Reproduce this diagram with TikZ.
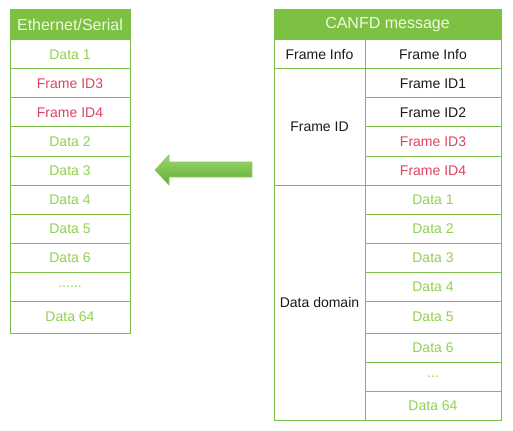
\documentclass[tikz,border=0pt]{standalone}
\usepackage{fontspec}
\setmainfont{Liberation Sans}
\usetikzlibrary{positioning}
\definecolor{Leaf}{HTML}{7CC142}
\definecolor{LeafLine}{HTML}{7DBE4B}
\definecolor{LeafText}{HTML}{92D050}
\definecolor{IdRed}{HTML}{DC4462}
\definecolor{HeadText}{HTML}{F0F8E2}
\definecolor{Ink}{HTML}{1A1A1A}
\definecolor{ArrTop}{HTML}{9CD86C}
\definecolor{ArrBot}{HTML}{62AC38}
\definecolor{ArrLine}{HTML}{8CCB5E}
\tikzset{cell/.style={draw=LeafLine,line width=.75pt,outer sep=0pt,inner sep=0pt,minimum height=21.75pt,align=center,font=\fontsize{10.5}{12}\selectfont},head/.style={cell,fill=Leaf,text=HeadText,minimum height=22.5pt,font=\fontsize{12}{14}\selectfont},datum/.style={cell,text=LeafText},idred/.style={cell,text=IdRed},info/.style={cell,text=Ink},lcol/.style={minimum width=90pt},rcol/.style={minimum width=102pt},fcol/.style={minimum width=68.25pt}}

\begin{document}
\begin{tikzpicture}[x=.75pt,y=-.75pt]
      \useasboundingbox (0,0) rectangle (513,431);
      % Ethernet/Serial side
      \node[head,lcol,anchor=north west](eth) at (10,10){Ethernet/Serial};
      \node[datum,lcol,below=0pt of eth](e1){Data 1};
      \node[idred,lcol,below=0pt of e1](e2){Frame ID3};
      \node[idred,lcol,below=0pt of e2](e3){Frame ID4};
      \node[datum,lcol,below=0pt of e3](e4){Data 2};
      \node[datum,lcol,below=0pt of e4](e5){Data 3};
      \node[datum,lcol,below=0pt of e5](e6){Data 4};
      \node[datum,lcol,below=0pt of e6](e7){Data 5};
      \node[datum,lcol,below=0pt of e7](e8){Data 6};
      \node[datum,lcol,below=0pt of e8](e9){......};
      \node[datum,lcol,minimum height=24pt,below=0pt of e9](e10){Data 64};
      % CANFD side
      \node[head,minimum width=170.25pt,anchor=north west](can) at (274,10){CANFD message};
      \node[info,rcol,below left=0pt and 0pt of can.south east](fi){Frame Info};
      \node[info,fcol,left=0pt of fi](fil){Frame Info};
      \node[info,rcol,below=0pt of fi](id1){Frame ID1};
      \node[info,rcol,below=0pt of id1](id2){Frame ID2};
      \node[idred,rcol,below=0pt of id2](id3){Frame ID3};
      \node[idred,rcol,below=0pt of id3](id4){Frame ID4};
      \node[info,fcol,minimum height=87pt,below=0pt of fil](fid){Frame ID};
      \node[datum,rcol,below=0pt of id4](d1){Data 1};
      \node[datum,rcol,below=0pt of d1](d2){Data 2};
      \node[datum,rcol,below=0pt of d2](d3){Data 3};
      \node[datum,rcol,below=0pt of d3](d4){Data 4};
      \node[datum,rcol,minimum height=24pt,below=0pt of d4](d5){Data 5};
      \node[datum,rcol,below=0pt of d5](d6){Data 6};
      \node[datum,rcol,below=0pt of d6](dots){...};
      \node[datum,rcol,below=0pt of dots](d64){Data 64};
      \node[info,fcol,minimum height=176.25pt,below=0pt of fid](dom){Data domain};
      % block arrow
      \shade[top color=ArrTop,bottom color=ArrBot,draw=ArrLine,line width=.5pt](155,170)--(169,155)--(169,162)--(252,162)--(252,177)--(169,177)--(169,185)--cycle;
    \end{tikzpicture}
\end{document}
